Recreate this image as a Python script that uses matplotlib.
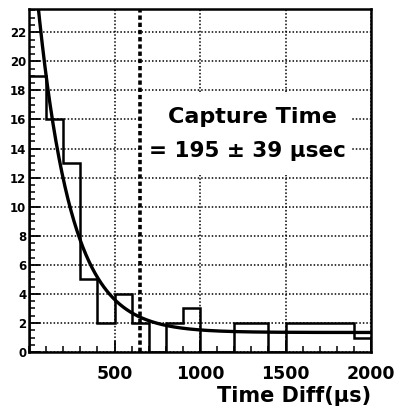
import numpy as np
import matplotlib
matplotlib.use("Agg")
import matplotlib.pyplot as plt
from matplotlib.patches import Rectangle
from matplotlib.ticker import MultipleLocator, FixedLocator

# Histogram of time differences (100 us bins, 0-2000 us)
bin_edges = [0, 100, 200, 300, 400, 500, 600, 700, 800, 900, 1000,
             1100, 1200, 1300, 1400, 1500, 1600, 1700, 1800, 1900, 2000]
counts = [19, 16, 13, 5, 2, 4, 2, 0, 2, 3,
          0, 0, 2, 2, 0, 2, 2, 2, 2, 1]

# Exponential + flat background fit
fit_tau = 195.0
fit_err = 39.0
fit_amp = 29.5
fit_const = 1.35

cut_time = 650
x_ticks = [500, 1000, 1500, 2000]
y_ticks = [0, 2, 4, 6, 8, 10, 12, 14, 16, 18, 20, 22]

plt.rcParams['font.family'] = ['DejaVu Sans']
plt.rcParams['font.weight'] = 'bold'

fig = plt.figure(figsize=(3.98, 4.08), dpi=100)
ax = fig.add_axes([0.0729, 0.137, 0.8593, 0.841])

ax.set_xlim(0, 2000)
ax.set_ylim(0, 23.6)

# grid
ax.xaxis.set_major_locator(FixedLocator(x_ticks))
ax.yaxis.set_major_locator(FixedLocator(y_ticks))
ax.xaxis.set_minor_locator(MultipleLocator(100))
ax.yaxis.set_minor_locator(MultipleLocator(0.5))
ax.grid(True, which='major', linestyle=(0, (1, 1.3)), color='black',
        linewidth=1.1, zorder=0)
ax.set_axisbelow(True)

# white panel behind the fit result text
ax.add_patch(Rectangle((660, 12.15), 1230, 5.6, facecolor='white',
                       edgecolor='none', zorder=1))

# histogram
ax.stairs(counts, bin_edges, color='black', linewidth=1.8, zorder=3)

# fit curve
t = np.linspace(0, 2000, 800)
ax.plot(t, fit_amp * np.exp(-t / fit_tau) + fit_const, color='black',
        linewidth=2.4, zorder=4)

# cut line
ax.axvline(cut_time, color='black', linewidth=2.6, linestyle=(0, (1.2, 0.8)),
           zorder=2)

ax.text(1305, 16.15, "Capture Time", ha='center', va='center',
        fontsize=16, fontweight='bold', zorder=5)
ax.text(1280, 13.8, "= %d \u00b1 %d \u03bcsec" % (fit_tau, fit_err),
        ha='center', va='center', fontsize=15.5, fontweight='bold', zorder=5)

ax.tick_params(which='major', direction='in', length=8, width=1.3,
               top=False, right=False)
ax.tick_params(which='minor', direction='in', length=4, width=1.1,
               top=False, right=False)
ax.tick_params(axis='x', which='major', labelsize=12.5, pad=9)
ax.tick_params(axis='y', which='major', labelsize=8.5, pad=2)
for lab in ax.get_xticklabels() + ax.get_yticklabels():
    lab.set_fontweight('bold')

for s in ax.spines.values():
    s.set_linewidth(1.8)

fig.text(0.932, 0.006, "Time Diff(\u03bcs)", ha='right', va='bottom',
         fontsize=15, fontweight='bold')

fig.savefig("out.png", dpi=100)
